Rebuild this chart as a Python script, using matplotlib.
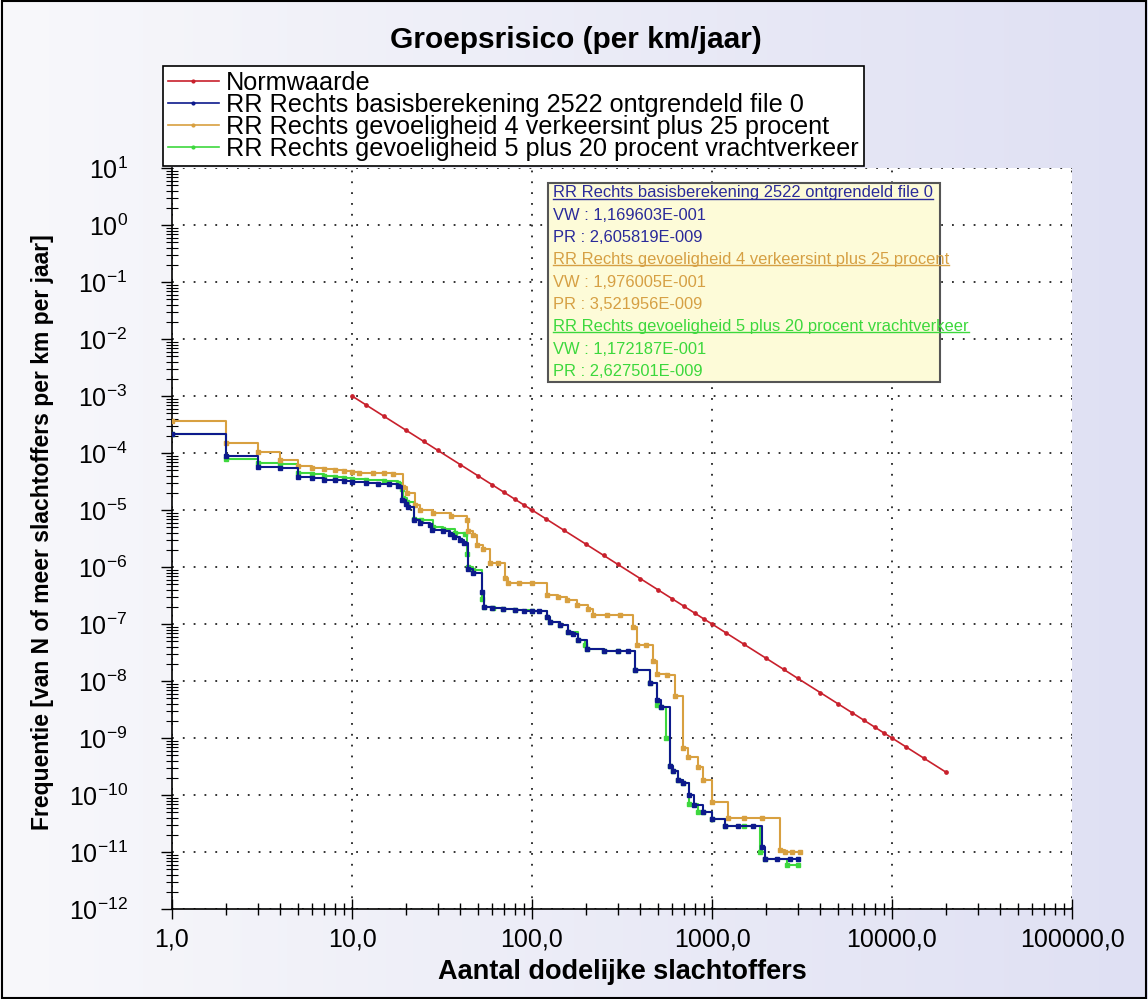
import matplotlib
matplotlib.use('Agg')
import matplotlib.pyplot as plt
import numpy as np
from matplotlib.colors import LinearSegmentedColormap
from matplotlib.lines import Line2D
from matplotlib.patches import Rectangle
from matplotlib.ticker import FixedLocator, FixedFormatter, LogLocator, NullFormatter

plt.rcParams['font.family'] = ['Liberation Sans', 'DejaVu Sans']
plt.rcParams['mathtext.fontset'] = 'custom'
plt.rcParams['mathtext.rm'] = 'Liberation Sans'
plt.rcParams['mathtext.it'] = 'Liberation Sans'
plt.rcParams['mathtext.bf'] = 'Liberation Sans:bold'

# ---------------- data ----------------
title = "Groepsrisico (per km/jaar)"
xlabel = "Aantal dodelijke slachtoffers"
ylabel = "Frequentie [van N of meer slachtoffers per km per jaar]"

series_names = ["Normwaarde",
                "RR Rechts basisberekening 2522 ontgrendeld file 0",
                "RR Rechts gevoeligheid 4 verkeersint plus 25 procent",
                "RR Rechts gevoeligheid 5 plus 20 procent vrachtverkeer"]

norm_N = [10, 12, 15, 20, 25, 30, 40, 50, 60, 70, 80, 90, 100, 120, 150, 200, 250, 300,
          400, 500, 600, 700, 800, 900, 1000, 1200, 1500, 2000, 2500, 3000, 4000, 5000,
          6000, 7000, 8000, 9000, 10000, 12000, 15000, 20000]
norm_F = [1e-3, 6.94e-4, 4.44e-4, 2.5e-4, 1.6e-4, 1.11e-4, 6.25e-5, 4e-5, 2.78e-5, 2.04e-5,
          1.56e-5, 1.23e-5, 1e-5, 6.94e-6, 4.44e-6, 2.5e-6, 1.6e-6, 1.11e-6, 6.25e-7, 4e-7,
          2.78e-7, 2.04e-7, 1.56e-7, 1.23e-7, 1e-7, 6.94e-8, 4.44e-8, 2.5e-8, 1.6e-8, 1.11e-8,
          6.25e-9, 4e-9, 2.78e-9, 2.04e-9, 1.56e-9, 1.23e-9, 1e-9, 6.94e-10, 4.44e-10, 2.5e-10]

base_N = [1, 2, 3, 4, 5, 6, 7, 8, 9, 10,
          12, 14, 16, 18, 19, 20, 20.5, 22, 24, 27,
          28, 32, 35, 37, 40, 42, 44, 47, 53, 54,
          60, 69, 80, 90, 100, 110, 121, 126, 143, 158,
          170, 181, 201, 250, 300, 340, 373, 450, 497, 518,
          585, 610, 650, 693, 748, 795, 888, 997, 1181, 1400,
          1700, 1888, 1968, 2300, 2700, 3000]
base_F = [2.15e-4, 8.9e-5, 5.7e-5, 5.5e-5, 3.8e-5, 3.6e-5, 3.4e-5, 3.3e-5, 3.2e-5, 3.1e-5,
          3.0e-5, 2.9e-5, 2.85e-5, 2.6e-5, 1.5e-5, 1.3e-5, 1.12e-5, 6.7e-6, 6.0e-6, 5.5e-6,
          4.5e-6, 4.2e-6, 3.8e-6, 3.4e-6, 3.0e-6, 2.6e-6, 9.2e-7, 7.8e-7, 3.7e-7, 2.0e-7,
          1.9e-7, 1.8e-7, 1.75e-7, 1.72e-7, 1.7e-7, 1.7e-7, 1.35e-7, 1.1e-7, 9.6e-8, 7.3e-8,
          6.8e-8, 5.2e-8, 3.6e-8, 3.4e-8, 3.3e-8, 3.3e-8, 1.55e-8, 9.2e-9, 4.7e-9, 3.5e-9,
          3.2e-10, 2.6e-10, 1.8e-10, 1.6e-10, 1.0e-10, 6.6e-11, 5.1e-11, 3.8e-11, 2.9e-11, 2.9e-11,
          2.9e-11, 1.2e-11, 7.4e-12, 7.4e-12, 7.4e-12, 7.4e-12]

sens4_N = [1, 2, 3, 4, 5, 6, 7, 8, 9, 10,
           11, 13, 15, 17, 19.3, 20.1, 22.4, 23.9, 28.3, 35.3,
           43.3, 44.3, 47.2, 49.4, 53.7, 58.5, 65, 70.8, 73.7, 85,
           100, 120.7, 140, 155.6, 177, 205, 219, 260, 310, 365,
           383, 430, 472, 492, 560, 622, 693, 740, 840, 895,
           996, 1231, 1500, 1900, 2387, 2545, 2800, 3080]
sens4_F = [3.6e-4, 1.5e-4, 1.04e-4, 7.6e-5, 5.9e-5, 5.5e-5, 5.2e-5, 5.0e-5, 4.8e-5, 4.7e-5,
           4.5e-5, 4.4e-5, 4.4e-5, 4.3e-5, 2.5e-5, 1.95e-5, 1.2e-5, 1.0e-5, 8.7e-6, 7.9e-6,
           6.7e-6, 4.2e-6, 3.7e-6, 2.4e-6, 2.1e-6, 1.17e-6, 1.17e-6, 6.3e-7, 5.2e-7, 5.2e-7,
           5.2e-7, 3.2e-7, 3.0e-7, 2.6e-7, 2.15e-7, 1.8e-7, 1.45e-7, 1.45e-7, 1.45e-7, 8.9e-8,
           4.3e-8, 4.3e-8, 2.2e-8, 1.35e-8, 1.3e-8, 5.4e-9, 6.6e-10, 4.7e-10, 3.1e-10, 1.8e-10,
           7.6e-11, 4.0e-11, 4.0e-11, 4.0e-11, 1.1e-11, 1.0e-11, 1.0e-11, 1.0e-11]

sens5_N = [1, 2, 3, 4, 5, 6, 7, 8, 9, 10,
           12, 15, 18, 18.9, 19.1, 20.1, 22.1, 24.3, 28.3, 32,
           37.3, 42.4, 43.5, 44.3, 47.2, 52.6, 54.1, 60.8, 69.2, 80,
           100, 121.6, 125.9, 143, 158, 181, 196, 201, 250, 300,
           373, 450, 497, 518, 558, 585, 610, 650, 693, 748,
           840, 888, 997, 1181, 1500, 1850, 1968, 2600, 3000]
sens5_F = [2.15e-4, 7.9e-5, 6.7e-5, 6.5e-5, 4.5e-5, 4.2e-5, 4.0e-5, 3.8e-5, 3.6e-5, 3.5e-5,
           3.3e-5, 3.2e-5, 3.0e-5, 2.3e-5, 1.6e-5, 1.4e-5, 6.9e-6, 6.8e-6, 5.0e-6, 4.6e-6,
           4.0e-6, 3.8e-6, 1.7e-6, 1.0e-6, 8.8e-7, 2.7e-7, 2.0e-7, 1.9e-7, 1.8e-7, 1.75e-7,
           1.7e-7, 1.35e-7, 1.1e-7, 9.6e-8, 7.3e-8, 5.2e-8, 4.3e-8, 3.6e-8, 3.4e-8, 3.3e-8,
           1.55e-8, 9.2e-9, 3.8e-9, 3.5e-9, 1.0e-9, 3.2e-10, 2.6e-10, 1.8e-10, 1.6e-10, 7.0e-11,
           5.1e-11, 5.1e-11, 3.8e-11, 2.9e-11, 2.9e-11, 1.0e-11, 7.4e-12, 5.9e-12, 5.9e-12]

x_ticks = [1, 10, 100, 1000, 10000, 100000]
x_ticklabels = ["1,0", "10,0", "100,0", "1000,0", "10000,0", "100000,0"]
y_exponents = list(range(-12, 2))

info_lines = [("RR Rechts basisberekening 2522 ontgrendeld file 0", 0, True),
              ("VW : 1,169603E-001", 0, False),
              ("PR : 2,605819E-009", 0, False),
              ("RR Rechts gevoeligheid 4 verkeersint plus 25 procent", 1, True),
              ("VW : 1,976005E-001", 1, False),
              ("PR : 3,521956E-009", 1, False),
              ("RR Rechts gevoeligheid 5 plus 20 procent vrachtverkeer", 2, True),
              ("VW : 1,172187E-001", 2, False),
              ("PR : 2,627501E-009", 2, False)]

# ---------------- styles ----------------
c_norm = '#c8202c'
c_base = '#0d1a8c'
c_s4 = '#d8a040'
c_s5 = '#3ed83e'
info_colors = ['#2a2a9a', '#d6a044', '#3cd83c']

W, H = 1148, 999
fig = plt.figure(figsize=(W / 100, H / 100), dpi=100)

# background gradient
bg = fig.add_axes([0, 0, 1, 1], zorder=-10)
grad = np.linspace(0, 1, 256).reshape(1, -1)
cmap = LinearSegmentedColormap.from_list('bg', ['#f8f8fb', '#dfe0f3'])
bg.imshow(grad, extent=[0, 1, 0, 1], aspect='auto', cmap=cmap)
bg.set_xlim(0, 1); bg.set_ylim(0, 1)
bg.set_axis_off()

def fx(px):
    return px / W

def fy(py):
    return 1 - py / H

ax = fig.add_axes([fx(172), fy(909), fx(1072) - fx(172), fy(168) - fy(909)])
ax.set_facecolor('white')
ax.set_xscale('log')
ax.set_yscale('log')

ax.plot(sens5_N, sens5_F, drawstyle='steps-post', color=c_s5, lw=1.5,
        marker='s', ms=2.4, zorder=3)
ax.plot(sens4_N, sens4_F, drawstyle='steps-post', color=c_s4, lw=1.5,
        marker='s', ms=2.4, zorder=4)
ax.plot(base_N, base_F, drawstyle='steps-post', color=c_base, lw=1.5,
        marker='s', ms=2.4, zorder=5)
ax.plot(norm_N, norm_F, color=c_norm, lw=1.2, marker='o', ms=2.4, zorder=6)

ax.set_xlim(1, 1e5)
ax.set_ylim(1e-12, 1e1)

ax.xaxis.set_major_locator(FixedLocator(x_ticks))
ax.xaxis.set_major_formatter(FixedFormatter(x_ticklabels))
ax.xaxis.set_minor_locator(LogLocator(base=10, subs=np.arange(2, 10), numticks=50))
ax.xaxis.set_minor_formatter(NullFormatter())

ax.yaxis.set_major_locator(FixedLocator([10.0 ** e for e in y_exponents]))
ax.yaxis.set_major_formatter(FixedFormatter(
    [r'$\mathregular{10^{%d}}$' % e for e in y_exponents]))
ax.yaxis.set_minor_locator(LogLocator(base=10, subs=np.arange(2, 10), numticks=50))
ax.yaxis.set_minor_formatter(NullFormatter())

ax.tick_params(axis='x', which='major', direction='inout', length=14, width=1,
               labelsize=18, pad=6)
ax.tick_params(axis='x', which='minor', direction='inout', length=9, width=1)
ax.tick_params(axis='y', which='major', direction='out', length=8, width=1,
               labelsize=18, pad=24)
ax.tick_params(axis='y', which='minor', direction='inout', length=8, width=0.8)

for s in ['top', 'right']:
    ax.spines[s].set_visible(False)
for s in ['left', 'bottom']:
    ax.spines[s].set_color('black')
    ax.spines[s].set_linewidth(1.2)

ax.grid(True, which='major', linestyle=(0, (1, 5)), color='#222222', lw=1.3)
ax.set_axisbelow(True)

# title and axis labels
fig.text(fx(576), fy(40), title, ha='center', va='center', fontsize=21.5, weight='bold')
fig.text(fx(622), fy(972), xlabel, ha='center', va='center', fontsize=19.5, weight='bold')
fig.text(fx(43), fy(532), ylabel, ha='center', va='center', rotation=90, fontsize=16.5,
         weight='bold')

# legend
handles = [Line2D([], [], color=c, lw=1.2, marker='o', ms=2) for c in [c_norm, c_base, c_s4, c_s5]]
leg = fig.legend(handles, series_names, loc='upper left',
                 bbox_to_anchor=(fx(163), fy(66)), frameon=True, fancybox=False,
                 edgecolor='black', framealpha=1, fontsize=18.2, handlelength=2.0,
                 labelspacing=-0.08, borderpad=0.2, borderaxespad=0, handletextpad=0.3,
                 numpoints=1)
leg.get_frame().set_linewidth(1.2)

# info box
box = Rectangle((fx(548), fy(382)), fx(940) - fx(548), fy(183) - fy(382),
                transform=fig.transFigure, facecolor='#fdfbd8', edgecolor='#555555',
                lw=1.5, zorder=20)
fig.patches.append(box)
texts = []
for i, (txt, ci, ul) in enumerate(info_lines):
    py = 193 + i * 22.3
    t = fig.text(fx(553), fy(py), txt, ha='left', va='center', fontsize=11.9,
                 color=info_colors[ci], zorder=21)
    texts.append((t, ul, info_colors[ci]))

# outer border
fig.patches.append(Rectangle((0.0015, 0.0015), 0.997, 0.997, transform=fig.transFigure,
                             fill=False, edgecolor='black', lw=1.5, zorder=30))

fig.canvas.draw()
r = fig.canvas.get_renderer()
for t, ul, col in texts:
    if ul:
        bb = t.get_window_extent(renderer=r)
        yb = bb.y0 + 2
        fig.add_artist(Line2D([bb.x0 / W, bb.x1 / W], [yb / H, yb / H],
                              transform=fig.transFigure, color=col, lw=1.0, zorder=22))

fig.savefig('out.png', dpi=100)
